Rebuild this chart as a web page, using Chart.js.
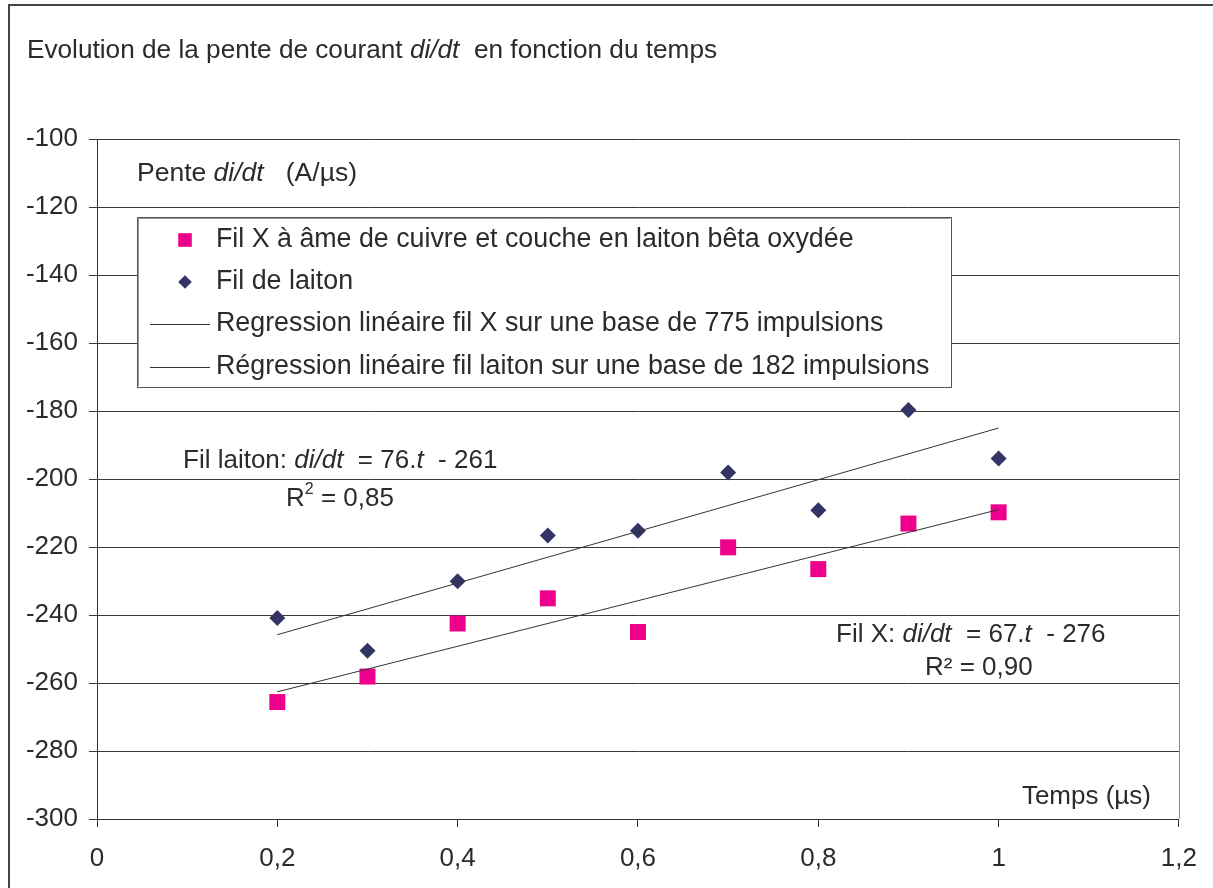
<!DOCTYPE html>
<html>
<head>
<meta charset="utf-8">
<script src="https://cdn.jsdelivr.net/npm/chart.js@4/dist/chart.umd.min.js"></script>
<style>
html, body { margin: 0; padding: 0; background: #fff; }
#wrap { width: 1213px; height: 888px; }
</style>
</head>
<body>
<div id="wrap"><canvas id="chart" width="1213" height="888"></canvas></div>
<script>
// time in µs
const timeValues = [0.2, 0.3, 0.4, 0.5, 0.6, 0.7, 0.8, 0.9, 1.0];
// di/dt in A/µs
const filXValues = [-265.6, -258.1, -242.5, -235.1, -245.0, -220.1, -226.5, -213.1, -209.8];
const laitonValues = [-240.9, -250.5, -230.1, -216.6, -215.2, -198.1, -209.2, -179.7, -194.0];
// trend line end points
const trendTimes = [0.2, 1.0];
const trendFilX = [-262.6, -209.0];
const trendLaiton = [-245.8, -185.0];

const xTicks = [0, 0.2, 0.4, 0.6, 0.8, 1, 1.2];
const yTicks = [-300, -280, -260, -240, -220, -200, -180, -160, -140, -120, -100];

const seriesLabels = [
    'Fil X à âme de cuivre et couche en laiton bêta oxydée',
    'Fil de laiton',
    'Regression linéaire fil X sur une base de 775 impulsions',
    'Régression linéaire fil laiton sur une base de 182 impulsions'
];

const FONT = "'Liberation Sans', Arial, sans-serif";
const TXT = '#2b2b2b';
const PINK = '#ec008c';
const NAVY = '#333366';

const pts = (xs, ys) => xs.map((x, i) => ({ x: x, y: ys[i] }));
const comma = v => String(Math.round(v * 10) / 10).replace('.', ',');

// draws a run of text pieces: [text, 'n' | 'i' | 'sup']
function drawRich(ctx, parts, x, y, size, align) {
    const fontFor = s => s === 'i' ? `italic ${size}px ${FONT}` : s === 'sup' ? `${Math.round(size * 0.62)}px ${FONT}` : `${size}px ${FONT}`;
    let total = 0;
    parts.forEach(p => { ctx.font = fontFor(p[1]); total += ctx.measureText(p[0]).width; });
    let cx = align === 'right' ? x - total : x;
    ctx.textBaseline = 'middle';
    ctx.textAlign = 'left';
    ctx.fillStyle = TXT;
    parts.forEach(p => {
        ctx.font = fontFor(p[1]);
        ctx.fillText(p[0], cx, p[1] === 'sup' ? y - size * 0.38 : y);
        cx += ctx.measureText(p[0]).width;
    });
}

const decorations = {
    id: 'decorations',
    beforeDraw(chart) {
        const ctx = chart.ctx;
        ctx.save();
        ctx.fillStyle = '#fff';
        ctx.fillRect(0, 0, chart.width, chart.height);
        ctx.restore();
    },
    afterDraw(chart) {
        const ctx = chart.ctx;
        const a = chart.chartArea;
        ctx.save();

        // outer frame
        ctx.strokeStyle = '#444';
        ctx.lineWidth = 2;
        ctx.strokeRect(9, 5, 1400, 1000);

        // right border of plot
        ctx.strokeStyle = '#888';
        ctx.lineWidth = 1;
        ctx.beginPath();
        ctx.moveTo(Math.round(a.right) + 0.5, a.top);
        ctx.lineTo(Math.round(a.right) + 0.5, a.bottom);
        ctx.stroke();

        // texts
        drawRich(ctx, [['Evolution de la pente de courant ', 'n'], ['di/dt', 'i'], ['  en fonction du temps', 'n']], 27, 51, 26.2);
        drawRich(ctx, [['Pente ', 'n'], ['di/dt', 'i'], ['   (A/µs)', 'n']], 137, 174, 26.5);
        drawRich(ctx, [['Temps (µs)', 'n']], 1151, 797, 26, 'right');
        drawRich(ctx, [['Fil laiton: ', 'n'], ['di/dt', 'i'], ['  = 76.', 'n'], ['t', 'i'], ['  - 261', 'n']], 183, 461, 26);
        drawRich(ctx, [['R', 'n'], ['2', 'sup'], [' = 0,85', 'n']], 286, 499, 26);
        drawRich(ctx, [['Fil X: ', 'n'], ['di/dt', 'i'], ['  = 67.', 'n'], ['t', 'i'], ['  - 276', 'n']], 836, 635, 26);
        drawRich(ctx, [['R² = 0,90', 'n']], 925, 668, 26);

        // legend box
        const bx = 137, by = 217, bw = 814, bh = 170;
        ctx.fillStyle = '#fff';
        ctx.fillRect(bx, by, bw, bh);
        ctx.strokeStyle = '#555';
        ctx.lineWidth = 1;
        ctx.strokeRect(bx + 0.5, by + 0.5, bw, bh);
        ctx.strokeStyle = '#999';
        ctx.beginPath();
        ctx.moveTo(bx + 1.5, by + bh - 1);
        ctx.lineTo(bx + 1.5, by + 1.5);
        ctx.lineTo(bx + bw - 1, by + 1.5);
        ctx.stroke();

        const rows = [240, 282, 324, 367];
        chart.data.datasets.forEach((ds, i) => {
            const y = rows[i];
            if (ds.showLine) {
                ctx.strokeStyle = ds.borderColor;
                ctx.lineWidth = 1;
                ctx.beginPath();
                ctx.moveTo(150, y + 0.5);
                ctx.lineTo(210, y + 0.5);
                ctx.stroke();
            } else {
                ctx.fillStyle = ds.backgroundColor;
                ctx.strokeStyle = ds.backgroundColor;
                ctx.lineWidth = 0;
                Chart.helpers.drawPoint(ctx, {
                    pointStyle: ds.pointStyle,
                    radius: ds.pointRadius * 0.85,
                    rotation: 0,
                    borderWidth: 0
                }, 185, y);
            }
            drawRich(ctx, [[ds.label, 'n']], 216, y, 26.8);
        });
        ctx.restore();
    }
};

const axisFont = { family: FONT, size: 26 };

new Chart(document.getElementById('chart'), {
    type: 'scatter',
    data: {
        datasets: [
            {
                label: seriesLabels[0],
                data: pts(timeValues, filXValues),
                pointStyle: 'rect',
                pointRadius: 11.3,
                backgroundColor: PINK,
                borderColor: PINK,
                borderWidth: 0,
                order: 2
            },
            {
                label: seriesLabels[1],
                data: pts(timeValues, laitonValues),
                pointStyle: 'rectRot',
                pointRadius: 8,
                backgroundColor: NAVY,
                borderColor: NAVY,
                borderWidth: 0,
                order: 2
            },
            {
                label: seriesLabels[2],
                data: pts(trendTimes, trendFilX),
                showLine: true,
                pointRadius: 0,
                borderColor: '#333',
                borderWidth: 1,
                order: 1
            },
            {
                label: seriesLabels[3],
                data: pts(trendTimes, trendLaiton),
                showLine: true,
                pointRadius: 0,
                borderColor: '#333',
                borderWidth: 1,
                order: 1
            }
        ]
    },
    options: {
        responsive: false,
        animation: false,
        devicePixelRatio: 1,
        layout: { padding: { top: 139, right: 30, left: 0, bottom: 0 } },
        plugins: {
            legend: { display: false },
            tooltip: { enabled: false }
        },
        scales: {
            x: {
                type: 'linear',
                min: 0,
                max: 1.2,
                afterBuildTicks: s => { s.ticks = xTicks.map(v => ({ value: v })); },
                afterFit: s => { s.height = 69; },
                grid: { drawOnChartArea: false, tickLength: 8, color: '#333' },
                border: { color: '#333', width: 1 },
                ticks: { font: axisFont, color: TXT, padding: 16, maxRotation: 0, callback: v => comma(v) }
            },
            y: {
                type: 'linear',
                min: -300,
                max: -100,
                afterBuildTicks: s => { s.ticks = yTicks.map(v => ({ value: v })); },
                afterFit: s => { s.width = 97; },
                grid: { tickLength: 8, color: '#3a3a3a' },
                border: { color: '#333', width: 1 },
                ticks: { font: axisFont, color: TXT, padding: 11, callback: v => String(v) }
            }
        }
    },
    plugins: [decorations]
});
</script>
</body>
</html>
